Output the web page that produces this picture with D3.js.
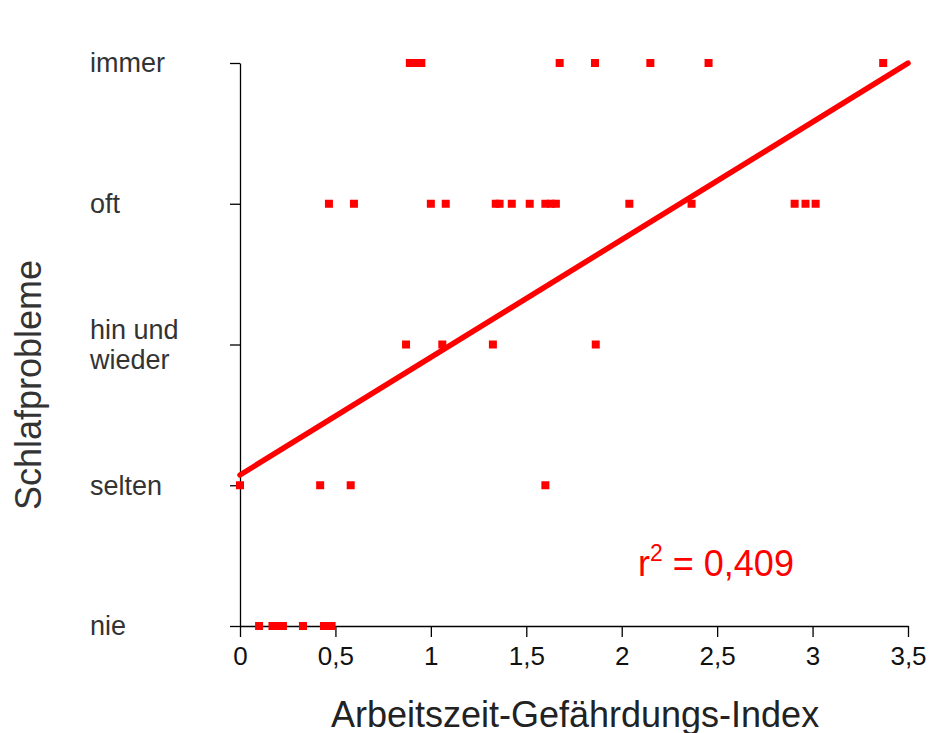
<!DOCTYPE html>
<html>
<head>
<meta charset="utf-8">
<script src="https://cdn.jsdelivr.net/npm/d3@7"></script>
<style>
  html, body { margin: 0; padding: 0; background: #fff; }
  svg { display: block; font-family: "Liberation Sans", Arial, sans-serif; }
</style>
</head>
<body>
<script>
// Answer levels of the sleep-problem question (0 = nie … 4 = immer)
const levels = ["nie", "selten", "hin und wieder", "oft", "immer"];
const xTicks = [0, 0.5, 1, 1.5, 2, 2.5, 3, 3.5];

// Respondents: working-time hazard index and sleep-problem level
const indexValues = [
  0.10, 0.17, 0.20, 0.225, 0.33, 0.44, 0.46, 0.48,
  0, 0.42, 0.58, 1.60,
  0.87, 1.06, 1.325, 1.864,
  0.466, 0.597, 1.0, 1.078, 1.34, 1.36, 1.424, 1.518, 1.60, 1.63, 1.655, 2.04, 2.366, 2.906, 2.963, 3.016,
  0.89, 0.92, 0.95, 1.675, 1.86, 2.15, 2.455, 3.37
];
const levelValues = [
  0, 0, 0, 0, 0, 0, 0, 0,
  1, 1, 1, 1,
  2, 2, 2, 2,
  3, 3, 3, 3, 3, 3, 3, 3, 3, 3, 3, 3, 3, 3, 3, 3,
  4, 4, 4, 4, 4, 4, 4, 4
];

// Linear fit: intercept and slope, plus its coefficient of determination
const fitIntercept = 1.073;
const fitSlope = 0.836;
const rSquared = "0,409";

const width = 932, height = 733;
const svg = d3.select("body").append("svg")
  .attr("width", width).attr("height", height);

const x = d3.scaleLinear().domain([0, 3.5]).range([240, 908]);
const y = d3.scaleLinear().domain([0, 4]).range([626, 63]);

const fmt = v => String(v).replace(".", ",");

// x axis
const xAxis = svg.append("g")
  .attr("transform", `translate(0,${y(0)})`)
  .call(d3.axisBottom(x).tickValues(xTicks).tickFormat(fmt).tickSize(11).tickSizeOuter(0));
xAxis.select(".domain").attr("stroke", "#000").attr("stroke-width", 1.3);
xAxis.selectAll(".tick line").attr("stroke", "#000").attr("stroke-width", 1.3);
xAxis.selectAll(".tick text")
  .attr("font-size", 26).attr("fill", "#111").attr("dy", "0.95em");

// y axis
const yAxis = svg.append("g")
  .attr("transform", `translate(${x(0)},0)`)
  .call(d3.axisLeft(y).tickValues([0, 1, 2, 3, 4]).tickFormat(() => "").tickSize(10).tickSizeOuter(0));
yAxis.select(".domain").attr("stroke", "#000").attr("stroke-width", 1.3);
yAxis.selectAll(".tick line").attr("stroke", "#000").attr("stroke-width", 1.3);

// y tick labels, left aligned
levels.forEach((lab, i) => {
  const words = lab === "hin und wieder" ? ["hin und", "wieder"] : [lab];
  const t = svg.append("text")
    .attr("x", 90)
    .attr("font-size", 27)
    .attr("fill", "#333");
  const lineH = 30;
  const y0 = y(i) - (words.length - 1) * lineH / 2;
  words.forEach((w, j) => {
    t.append("tspan").attr("x", 90).attr("y", y0 + j * lineH).attr("dy", "0.35em").text(w);
  });
});

// fitted regression line
svg.append("line")
  .attr("x1", x(0)).attr("y1", y(fitIntercept))
  .attr("x2", x(3.5)).attr("y2", y(fitIntercept + fitSlope * 3.5))
  .attr("stroke", "#ff0000").attr("stroke-width", 5.5).attr("stroke-linecap", "round");

// points
const pts = indexValues.map((v, i) => ({ v, l: levelValues[i] }));
const s = 8;
svg.append("g").selectAll("rect").data(pts).join("rect")
  .attr("x", d => x(d.v) - s / 2)
  .attr("y", d => y(d.l) - s / 2)
  .attr("width", s).attr("height", s)
  .attr("fill", "#ff0000");

// r² annotation
const r = svg.append("text")
  .attr("x", 638).attr("y", 576)
  .attr("font-size", 36).attr("fill", "#ff0000");
r.append("tspan").text("r");
r.append("tspan").attr("font-size", 23).attr("dy", -15).text("2");
r.append("tspan").attr("dy", 15).text(" = " + rSquared);

// axis titles
svg.append("text")
  .attr("x", 575).attr("y", 727)
  .attr("text-anchor", "middle").attr("font-size", 36).attr("fill", "#222")
  .text("Arbeitszeit-Gefährdungs-Index");

svg.append("text")
  .attr("transform", `translate(41,385) rotate(-90)`)
  .attr("text-anchor", "middle").attr("font-size", 36).attr("fill", "#333")
  .text("Schlafprobleme");
</script>
</body>
</html>
